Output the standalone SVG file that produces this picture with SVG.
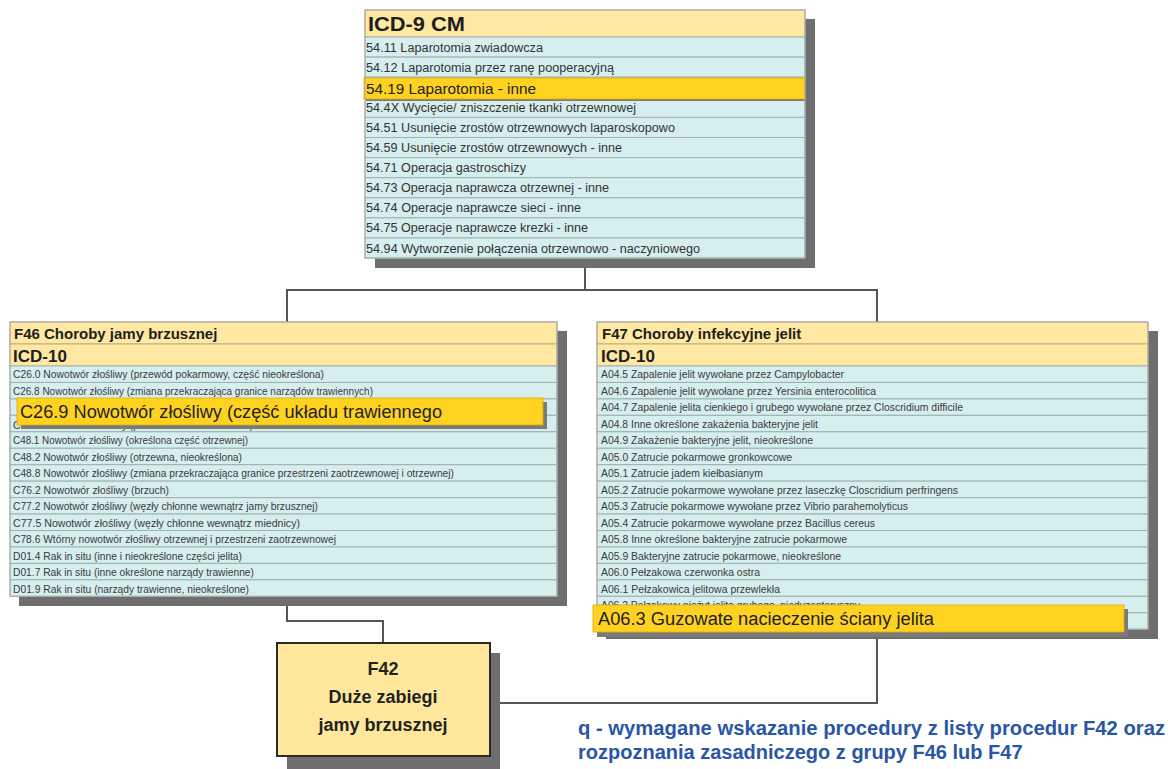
<svg xmlns="http://www.w3.org/2000/svg" width="1170" height="769" viewBox="0 0 1170 769">
  <style>
    .bg { fill: #ffffff; }
    .shadow { fill: #6e6e6e; }
    .hdr { fill: #ffe9a2; stroke: #b9ad86; stroke-width: 1; }
    .row { fill: #d6eeee; stroke: #9fb1b1; stroke-width: 1; }
    .hl { fill: #ffd21f; stroke: #d9ac00; stroke-width: 0.8; }
    .hlshadow { fill: #7a7a7a; }
    .frame { fill: none; stroke: #a9a9a9; stroke-width: 1; }
    .conn { fill: none; stroke: #555555; stroke-width: 2; }
    text { font-family: "Liberation Sans", Arial, sans-serif; fill: #333333; }
    .h-big { font-size: 21px; font-weight: bold; fill: #1e1e1e; }
    .h-mid { font-size: 15px; font-weight: bold; fill: #1e1e1e; }
    .h-icd { font-size: 17px; font-weight: bold; fill: #1e1e1e; }
    .t-top { font-size: 12.5px; }
    .t-sm { font-size: 10.5px; fill: #3a3a3a; }
    .t-hl { font-size: 18px; fill: #222222; }
    .t-hl-top { font-size: 15.5px; fill: #222222; }
    .f42box { fill: #ffe89c; stroke: #2a2a2a; stroke-width: 2; }
    .f42txt { font-size: 18px; font-weight: bold; fill: #222222; text-anchor: middle; }
    .note { font-size: 20px; font-weight: bold; fill: #2a56a6; }
  </style>

  <rect class="bg" x="0" y="0" width="1170" height="769"/>

  <!-- connectors -->
  <g id="connectors">
    <polyline class="conn" points="585,268 585,290"/>
    <polyline class="conn" points="287,322 287,290 877,290 877,322"/>
    <polyline class="conn" points="287,606 287,621 383,621 383,643"/>
    <polyline class="conn" points="877,637 877,703 490,703"/>
  </g>

  <!-- ICD-9 CM procedure list -->
  <g id="icd9">
    <rect class="shadow" x="375" y="19" width="440" height="249"/>
    <rect class="hdr" x="365" y="10" width="440" height="27"/>
    <text class="h-big" x="368" y="31" textLength="97" lengthAdjust="spacingAndGlyphs">ICD-9 CM</text>
    <rect class="row" x="365" y="37" width="440" height="20.1"/>
    <rect class="row" x="365" y="57.1" width="440" height="20.1"/>
    <rect class="row" x="365" y="77.2" width="440" height="20.1"/>
    <rect class="row" x="365" y="97.3" width="440" height="20.1"/>
    <rect class="row" x="365" y="117.4" width="440" height="20.1"/>
    <rect class="row" x="365" y="137.5" width="440" height="20.1"/>
    <rect class="row" x="365" y="157.6" width="440" height="20.1"/>
    <rect class="row" x="365" y="177.7" width="440" height="20.1"/>
    <rect class="row" x="365" y="197.8" width="440" height="20.1"/>
    <rect class="row" x="365" y="217.9" width="440" height="20.1"/>
    <rect class="row" x="365" y="238" width="440" height="20.1"/>
    <text class="t-top" x="366" y="52" textLength="177" lengthAdjust="spacingAndGlyphs">54.11 Laparotomia zwiadowcza</text>
    <text class="t-top" x="366" y="72" textLength="248" lengthAdjust="spacingAndGlyphs">54.12 Laparotomia przez ranę pooperacyjną</text>
    <text class="t-top" x="366" y="112" textLength="270" lengthAdjust="spacingAndGlyphs">54.4X Wycięcie/ zniszczenie tkanki otrzewnowej</text>
    <text class="t-top" x="366" y="132" textLength="309" lengthAdjust="spacingAndGlyphs">54.51 Usunięcie zrostów otrzewnowych laparoskopowo</text>
    <text class="t-top" x="366" y="152" textLength="256" lengthAdjust="spacingAndGlyphs">54.59 Usunięcie zrostów otrzewnowych - inne</text>
    <text class="t-top" x="366" y="172" textLength="160" lengthAdjust="spacingAndGlyphs">54.71 Operacja gastroschizy</text>
    <text class="t-top" x="366" y="192" textLength="243" lengthAdjust="spacingAndGlyphs">54.73 Operacja naprawcza otrzewnej - inne</text>
    <text class="t-top" x="366" y="212" textLength="215" lengthAdjust="spacingAndGlyphs">54.74 Operacje naprawcze sieci - inne</text>
    <text class="t-top" x="366" y="232" textLength="222" lengthAdjust="spacingAndGlyphs">54.75 Operacje naprawcze krezki - inne</text>
    <text class="t-top" x="366" y="253" textLength="334" lengthAdjust="spacingAndGlyphs">54.94 Wytworzenie połączenia otrzewnowo - naczyniowego</text>
    <rect class="hlshadow" x="366" y="80" width="440" height="21"/>
    <rect class="hl" x="364" y="78" width="441" height="21"/>
    <text class="t-hl-top" x="366" y="94" textLength="170" lengthAdjust="spacingAndGlyphs">54.19 Laparotomia - inne</text>
    <rect class="frame" x="365" y="10" width="440" height="248.1"/>
  </g>

  <!-- F46 diagnosis group -->
  <g id="f46">
    <rect class="shadow" x="19" y="331" width="548" height="275"/>
    <rect class="hdr" x="10" y="322" width="547" height="22"/>
    <rect class="hdr" x="10" y="344" width="547" height="22"/>
    <text class="h-mid" x="14" y="338.5">F46 Choroby jamy brzusznej</text>
    <text class="h-icd" x="13" y="361.5">ICD-10</text>
    <rect class="row" x="10" y="366" width="547" height="16.45"/>
    <rect class="row" x="10" y="382.45" width="547" height="16.45"/>
    <rect class="row" x="10" y="398.9" width="547" height="16.45"/>
    <rect class="row" x="10" y="415.35" width="547" height="16.45"/>
    <rect class="row" x="10" y="431.8" width="547" height="16.45"/>
    <rect class="row" x="10" y="448.25" width="547" height="16.45"/>
    <rect class="row" x="10" y="464.7" width="547" height="16.45"/>
    <rect class="row" x="10" y="481.15" width="547" height="16.45"/>
    <rect class="row" x="10" y="497.6" width="547" height="16.45"/>
    <rect class="row" x="10" y="514.05" width="547" height="16.45"/>
    <rect class="row" x="10" y="530.5" width="547" height="16.45"/>
    <rect class="row" x="10" y="546.95" width="547" height="16.45"/>
    <rect class="row" x="10" y="563.4" width="547" height="16.45"/>
    <rect class="row" x="10" y="579.85" width="547" height="16.45"/>
    <text class="t-sm" x="13" y="378" textLength="311" lengthAdjust="spacingAndGlyphs">C26.0 Nowotwór złośliwy (przewód pokarmowy, część nieokreślona)</text>
    <text class="t-sm" x="13" y="394.5" textLength="360" lengthAdjust="spacingAndGlyphs">C26.8 Nowotwór złośliwy (zmiana przekraczająca granice narządów trawiennych)</text>
    <text class="t-sm" x="13" y="428.5" textLength="240" lengthAdjust="spacingAndGlyphs">C48.0 Nowotwór złośliwy (przestrzeń zaotrzewnowa)</text>
    <text class="t-sm" x="13" y="444" textLength="235" lengthAdjust="spacingAndGlyphs">C48.1 Nowotwór złośliwy (określona część otrzewnej)</text>
    <text class="t-sm" x="13" y="460.5" textLength="229" lengthAdjust="spacingAndGlyphs">C48.2 Nowotwór złośliwy (otrzewna, nieokreślona)</text>
    <text class="t-sm" x="13" y="477" textLength="441" lengthAdjust="spacingAndGlyphs">C48.8 Nowotwór złośliwy (zmiana przekraczająca granice przestrzeni zaotrzewnowej i otrzewnej)</text>
    <text class="t-sm" x="13" y="493.5" textLength="156" lengthAdjust="spacingAndGlyphs">C76.2 Nowotwór złośliwy (brzuch)</text>
    <text class="t-sm" x="13" y="510" textLength="305" lengthAdjust="spacingAndGlyphs">C77.2 Nowotwór złośliwy (węzły chłonne wewnątrz jamy brzusznej)</text>
    <text class="t-sm" x="13" y="526.5" textLength="287" lengthAdjust="spacingAndGlyphs">C77.5 Nowotwór złośliwy (węzły chłonne wewnątrz miednicy)</text>
    <text class="t-sm" x="13" y="543" textLength="323" lengthAdjust="spacingAndGlyphs">C78.6 Wtórny nowotwór złośliwy otrzewnej i przestrzeni zaotrzewnowej</text>
    <text class="t-sm" x="13" y="559.5" textLength="229" lengthAdjust="spacingAndGlyphs">D01.4 Rak in situ (inne i nieokreślone części jelita)</text>
    <text class="t-sm" x="13" y="576" textLength="241" lengthAdjust="spacingAndGlyphs">D01.7 Rak in situ (inne określone narządy trawienne)</text>
    <text class="t-sm" x="13" y="592.5" textLength="236" lengthAdjust="spacingAndGlyphs">D01.9 Rak in situ (narządy trawienne, nieokreślone)</text>
    <rect class="frame" x="10" y="322" width="547" height="274.3"/>
    <rect class="hlshadow" x="21" y="402" width="526" height="27"/>
    <rect class="hl" x="17" y="398" width="526" height="27"/>
    <text class="t-hl" x="20" y="418" textLength="422" lengthAdjust="spacingAndGlyphs">C26.9 Nowotwór złośliwy (część układu trawiennego</text>
  </g>

  <!-- F47 diagnosis group -->
  <g id="f47">
    <rect class="shadow" x="606" y="331" width="552" height="308"/>
    <rect class="hdr" x="597" y="322" width="551" height="22"/>
    <rect class="hdr" x="597" y="344" width="551" height="22"/>
    <text class="h-mid" x="602" y="338.5">F47 Choroby infekcyjne jelit</text>
    <text class="h-icd" x="601" y="361.5">ICD-10</text>
    <rect class="row" x="597" y="366" width="551" height="16.45"/>
    <rect class="row" x="597" y="382.45" width="551" height="16.45"/>
    <rect class="row" x="597" y="398.9" width="551" height="16.45"/>
    <rect class="row" x="597" y="415.35" width="551" height="16.45"/>
    <rect class="row" x="597" y="431.8" width="551" height="16.45"/>
    <rect class="row" x="597" y="448.25" width="551" height="16.45"/>
    <rect class="row" x="597" y="464.7" width="551" height="16.45"/>
    <rect class="row" x="597" y="481.15" width="551" height="16.45"/>
    <rect class="row" x="597" y="497.6" width="551" height="16.45"/>
    <rect class="row" x="597" y="514.05" width="551" height="16.45"/>
    <rect class="row" x="597" y="530.5" width="551" height="16.45"/>
    <rect class="row" x="597" y="546.95" width="551" height="16.45"/>
    <rect class="row" x="597" y="563.4" width="551" height="16.45"/>
    <rect class="row" x="597" y="579.85" width="551" height="16.45"/>
    <rect class="row" x="597" y="596.3" width="551" height="16.45"/>
    <rect class="row" x="597" y="612.75" width="551" height="16.45"/>
    <text class="t-sm" x="601" y="378" textLength="243" lengthAdjust="spacingAndGlyphs">A04.5 Zapalenie jelit wywołane przez Campylobacter</text>
    <text class="t-sm" x="601" y="394.5" textLength="275" lengthAdjust="spacingAndGlyphs">A04.6 Zapalenie jelit wywołane przez Yersinia enterocolitica</text>
    <text class="t-sm" x="601" y="411" textLength="362" lengthAdjust="spacingAndGlyphs">A04.7 Zapalenie jelita cienkiego i grubego wywołane przez Closcridium difficile</text>
    <text class="t-sm" x="601" y="427.5" textLength="217" lengthAdjust="spacingAndGlyphs">A04.8 Inne określone zakażenia bakteryjne jelit</text>
    <text class="t-sm" x="601" y="444" textLength="212" lengthAdjust="spacingAndGlyphs">A04.9 Zakażenie bakteryjne jelit, nieokreślone</text>
    <text class="t-sm" x="601" y="460.5" textLength="191" lengthAdjust="spacingAndGlyphs">A05.0 Zatrucie pokarmowe gronkowcowe</text>
    <text class="t-sm" x="601" y="477" textLength="162" lengthAdjust="spacingAndGlyphs">A05.1 Zatrucie jadem kiełbasianym</text>
    <text class="t-sm" x="601" y="493.5" textLength="357" lengthAdjust="spacingAndGlyphs">A05.2 Zatrucie pokarmowe wywołane przez laseczkę Closcridium perfringens</text>
    <text class="t-sm" x="601" y="510" textLength="307" lengthAdjust="spacingAndGlyphs">A05.3 Zatrucie pokarmowe wywołane przez Vibrio parahemolyticus</text>
    <text class="t-sm" x="601" y="526.5" textLength="274" lengthAdjust="spacingAndGlyphs">A05.4 Zatrucie pokarmowe wywołane przez Bacillus cereus</text>
    <text class="t-sm" x="601" y="543" textLength="246" lengthAdjust="spacingAndGlyphs">A05.8 Inne określone bakteryjne zatrucie pokarmowe</text>
    <text class="t-sm" x="601" y="559.5" textLength="240" lengthAdjust="spacingAndGlyphs">A05.9 Bakteryjne zatrucie pokarmowe, nieokreślone</text>
    <text class="t-sm" x="601" y="576" textLength="159" lengthAdjust="spacingAndGlyphs">A06.0 Pełzakowa czerwonka ostra</text>
    <text class="t-sm" x="601" y="592.5" textLength="179" lengthAdjust="spacingAndGlyphs">A06.1 Pełzakowica jelitowa przewlekła</text>
    <text class="t-sm" x="601" y="609" textLength="259" lengthAdjust="spacingAndGlyphs">A06.2 Pełzakowy nieżyt jelita grubego, niedyzenteryczny</text>
    <rect class="frame" x="597" y="322" width="551" height="307.2"/>
    <rect class="hlshadow" x="597" y="609" width="531" height="28"/>
    <rect class="hl" x="593" y="605" width="531" height="27"/>
    <text class="t-hl" x="598" y="625" textLength="336" lengthAdjust="spacingAndGlyphs">A06.3 Guzowate nacieczenie ściany jelita</text>
  </g>

  <!-- F42 procedure group -->
  <g id="f42">
    <rect class="shadow" x="287" y="653" width="213" height="116"/>
    <rect class="f42box" x="277" y="643" width="213" height="113"/>
    <text class="f42txt" x="383" y="675">F42</text>
    <text class="f42txt" x="383" y="703">Duże zabiegi</text>
    <text class="f42txt" x="383" y="731">jamy brzusznej</text>
  </g>

  <!-- footnote -->
  <g id="note">
    <text class="note" x="578" y="735" textLength="587" lengthAdjust="spacingAndGlyphs">q - wymagane wskazanie procedury z listy procedur F42 oraz</text>
    <text class="note" x="578" y="759">rozpoznania zasadniczego z grupy F46 lub F47</text>
  </g>
</svg>
